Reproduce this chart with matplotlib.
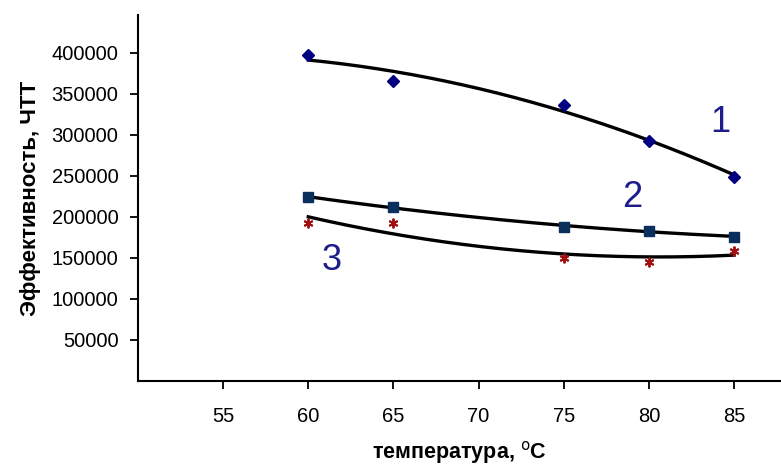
import numpy as np
import matplotlib
matplotlib.use("Agg")
import matplotlib.pyplot as plt

plt.rcParams['font.family'] = ['Liberation Sans', 'DejaVu Sans']

temps = [60, 65, 75, 80, 85]
series1 = [397000, 366000, 336000, 293000, 249000]
series2 = [224000, 212000, 188000, 183000, 176000]
series3 = [192500, 192500, 150000, 145000, 158500]
xticks = [55, 60, 65, 70, 75, 80, 85]
yticks = [50000, 100000, 150000, 200000, 250000, 300000, 350000, 400000]
labels = ["1", "2", "3"]
label_pos = [(84.2, 315500), (79.0, 224000), (61.4, 147000)]

fig = plt.figure(figsize=(7.81, 4.68), dpi=100)
ax = fig.add_axes([138/781, 1-381/468, 1-138/781, (381-15)/468])
ax.set_xlim(50, 50 + (781-138)/17.03)
ax.set_ylim(0, (381-15)/41.04*50000)

xs = np.linspace(60, 85, 200)
for ys in (series1, series2, series3):
    c = np.polyfit(temps, ys, 2)
    ax.plot(xs, np.polyval(c, xs), color='black', lw=2.4, zorder=2)

ax.plot(temps, series1, linestyle='none', marker='D', ms=6.5, color='#000080', zorder=3)
ax.plot(temps, series2, linestyle='none', marker='s', ms=7, color='#0b2f5c', zorder=3)
ax.plot(temps, series3, linestyle='none', marker=(6, 2, 0), ms=7, mew=1.4, color='#a01010', zorder=3)

for t, (lx, ly) in zip(labels, label_pos):
    ax.text(lx, ly, t, color='#1c1c8c', fontsize=26, ha='center', va='center')

for s in ('top', 'right'):
    ax.spines[s].set_visible(False)
for s in ('left', 'bottom'):
    ax.spines[s].set_linewidth(1.5)
    ax.spines[s].set_color('black')

ax.set_xticks(xticks)
ax.set_yticks(yticks)
ax.set_xticklabels([str(v) for v in xticks])
ax.set_yticklabels([str(v) for v in yticks])
ax.tick_params(axis='both', direction='out', length=6, width=1.3, labelsize=14.5, colors='black')
ax.tick_params(axis='x', pad=13)
ax.tick_params(axis='y', pad=8)

ax.set_ylabel('Эффективность, ЧТТ', fontsize=16, fontweight='bold', labelpad=8)
ax.set_xlabel('температура, $^{\\mathrm{o}}$C', fontsize=15.5, fontweight='bold', labelpad=9)

fig.savefig('out.png', dpi=100)
